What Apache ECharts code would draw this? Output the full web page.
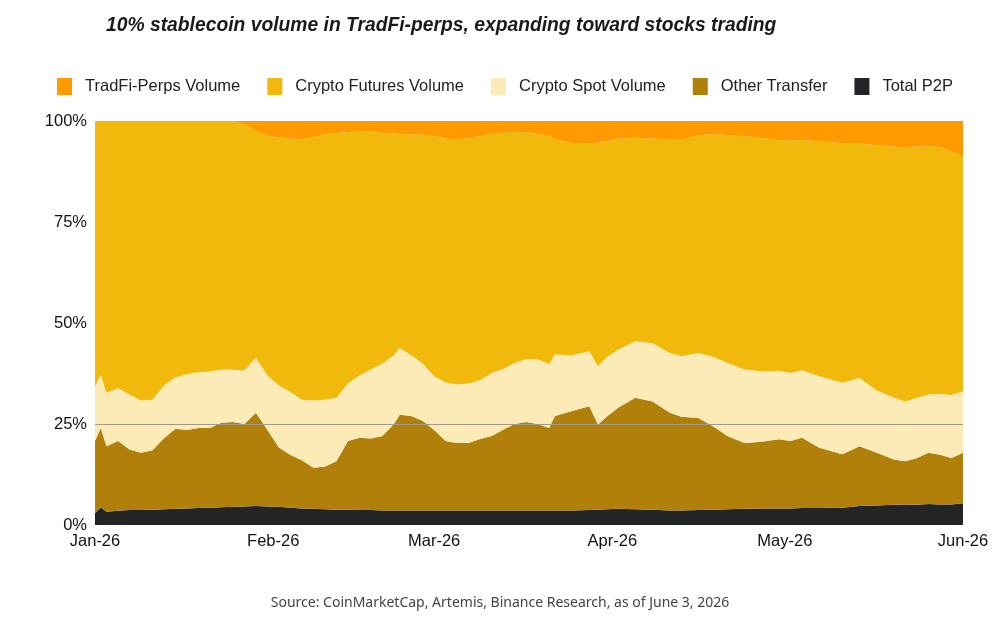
<!DOCTYPE html>
<html>
<head>
<meta charset="utf-8">
<title>Stablecoin volume share</title>
<script src="https://cdn.jsdelivr.net/npm/echarts@6/dist/echarts.min.js"></script>
<style>
  html, body { margin: 0; padding: 0; background: #fff; }
  #chart { width: 1000px; height: 629px; }
</style>
</head>
<body>
<div id="chart"></div>
<script>
// day offsets from 2026-01-01
var days = [0, 1, 2, 4, 6, 8, 10, 12, 14, 16, 18, 20, 22, 24, 26, 28, 30, 32, 34, 36, 38, 40, 42, 44, 46, 48, 50,
    52, 53, 55, 57, 59, 61, 63, 65, 67, 69, 71, 73, 75, 77, 79, 80, 83, 86, 87.5, 89, 91, 94, 97, 100,
    102, 105, 108, 110, 113, 116, 119, 121, 123, 126, 130, 133, 136, 139, 141, 143, 145, 147, 149, 151];

// shares in %, bottom layer first
var p2p = [2.9, 4.4, 3.3, 3.5, 3.7, 3.7, 3.8, 3.9, 4.0, 4.1, 4.2, 4.3, 4.4, 4.5, 4.6, 4.7, 4.6, 4.5, 4.3, 4.1, 4.0, 3.9, 3.8, 3.8, 3.7, 3.7, 3.6,
    3.6, 3.6, 3.6, 3.6, 3.6, 3.6, 3.6, 3.6, 3.6, 3.6, 3.6, 3.6, 3.6, 3.6, 3.6, 3.6, 3.6, 3.7, 3.8, 3.9, 4.0, 3.9, 3.8, 3.6,
    3.6, 3.7, 3.8, 3.9, 4.0, 4.1, 4.1, 4.1, 4.2, 4.2, 4.3, 4.7, 4.8, 5.0, 5.1, 5.0, 5.2, 5.1, 5.1, 5.4];
var otherTransfer = [17.9, 19.6, 16.2, 17.3, 15.0, 14.2, 14.7, 17.6, 19.8, 19.4, 19.8, 19.7, 20.9, 21.0, 20.4, 23.1, 18.9, 14.7, 13.0, 11.9, 10.2, 10.6, 12.0, 17.0, 17.9, 17.7, 18.4,
    21.4, 23.7, 23.4, 22.2, 19.9, 17.2, 16.7, 16.7, 17.7, 18.4, 20.0, 21.4, 21.9, 21.4, 20.4, 23.4, 24.6, 25.7, 21.1, 22.9, 25.0, 27.6, 26.8, 24.2,
    23.2, 22.8, 20.2, 18.1, 16.3, 16.5, 17.1, 16.7, 17.4, 14.9, 13.2, 14.8, 13.1, 11.2, 10.7, 11.6, 12.7, 12.3, 11.5, 12.5];
var cryptoSpot = [13.5, 13.2, 13.2, 13.1, 13.6, 12.9, 12.5, 13.0, 12.8, 13.8, 13.8, 14.0, 13.2, 12.9, 13.3, 13.6, 13.5, 15.3, 15.6, 15.0, 16.6, 16.5, 15.7, 14.2, 15.4, 17.1, 18.0,
    17.0, 16.5, 15.0, 14.2, 13.3, 14.5, 14.5, 14.7, 14.5, 15.6, 15.0, 15.1, 15.5, 16.0, 15.8, 15.2, 13.8, 13.6, 14.4, 14.7, 14.4, 14.0, 14.4, 14.8,
    15.0, 16.1, 17.4, 18.1, 18.2, 17.4, 17.0, 16.8, 16.7, 17.7, 17.7, 16.9, 15.4, 15.3, 14.8, 14.9, 14.4, 15.0, 15.6, 15.2];
var cryptoFutures = [65.7, 62.8, 67.3, 66.1, 67.7, 69.2, 69.0, 65.5, 63.4, 62.7, 62.2, 62.0, 61.5, 61.6, 60.9, 56.1, 59.3, 61.5, 62.7, 64.5, 65.2, 65.7, 65.5, 62.3, 60.4, 59.0, 57.0,
    54.9, 53.0, 54.7, 56.6, 59.4, 60.3, 60.7, 60.6, 60.4, 59.2, 58.4, 57.2, 56.2, 55.8, 56.4, 53.3, 52.5, 51.5, 55.3, 53.5, 52.2, 50.4, 50.6, 52.9,
    53.5, 53.9, 55.4, 56.4, 57.7, 57.8, 57.1, 57.6, 57.0, 58.2, 59.3, 58.0, 60.7, 62.1, 62.9, 62.2, 61.5, 61.1, 60.1, 58.1];
var tradfiPerps = [0, 0, 0, 0, 0, 0, 0, 0, 0, 0, 0, 0, 0, 0, 0.8, 2.5, 3.7, 4.0, 4.4, 4.5, 4.0, 3.3, 3.0, 2.7, 2.6, 2.5, 3.0,
    3.1, 3.2, 3.3, 3.4, 3.8, 4.4, 4.5, 4.4, 3.8, 3.2, 3.0, 2.7, 2.8, 3.2, 3.8, 4.5, 5.5, 5.5, 5.4, 5.0, 4.4, 4.1, 4.4, 4.5,
    4.7, 3.5, 3.2, 3.5, 3.8, 4.2, 4.7, 4.8, 4.7, 5.0, 5.5, 5.6, 6.0, 6.4, 6.5, 6.3, 6.2, 6.5, 7.7, 8.8];

// x tick labels, one per month start
var monthLabels = ['Jan-26', 'Feb-26', 'Mar-26', 'Apr-26', 'May-26', 'Jun-26'];

var DAY = 86400000;
var start = new Date(2026, 0, 1).getTime();
var end = new Date(2026, 5, 1).getTime();

var chart = echarts.init(document.getElementById('chart'));

function pairs(vals) {
    return days.map(function (d, i) { return [start + d * DAY, vals[i]]; });
}

function layer(name, vals, color) {
    return {
        name: name,
        type: 'line',
        stack: 'total',
        symbol: 'none',
        data: pairs(vals),
        lineStyle: { width: 0 },
        areaStyle: { color: color, opacity: 1 },
        itemStyle: { color: color }
    };
}

var series = [
    layer('Total P2P', p2p, '#222426'),
    layer('Other Transfer', otherTransfer, '#B0800A'),
    layer('Crypto Spot Volume', cryptoSpot, '#FCEAB7'),
    layer('Crypto Futures Volume', cryptoFutures, '#F0B90B'),
    layer('TradFi-Perps Volume', tradfiPerps, '#FF9A00')
];
// thin guide line at 25%, drawn over the areas
series[4].markLine = {
    silent: true,
    symbol: 'none',
    label: { show: false },
    lineStyle: { color: '#a09a86', width: 1, type: 'solid' },
    data: [{ yAxis: 25 }]
};

var option = {
    backgroundColor: '#fff',
    animation: false,
    title: {
        text: '10% stablecoin volume in TradFi-perps, expanding toward stocks trading',
        left: 101,
        top: 11,
        textStyle: {
            fontFamily: '"Liberation Sans", Arial, sans-serif',
            fontSize: 19.3,
            fontWeight: 'bold',
            fontStyle: 'italic',
            color: '#1a1a1a'
        }
    },
    legend: {
        data: ['TradFi-Perps Volume', 'Crypto Futures Volume', 'Crypto Spot Volume', 'Other Transfer', 'Total P2P'],
        left: 52,
        top: 73,
        icon: 'rect',
        itemWidth: 15,
        itemHeight: 17,
        itemGap: 27,
        textStyle: {
            fontFamily: '"Liberation Sans", Arial, sans-serif',
            fontSize: 16.5,
            color: '#222',
            padding: [0, 0, 0, 8]
        }
    },
    grid: { left: 95, right: 37, top: 121, bottom: 104 },
    xAxis: {
        type: 'time',
        min: start,
        max: end,
        splitNumber: 5,
        splitLine: { show: false },
        axisLine: { show: false },
        axisTick: { show: false },
        axisLabel: {
            margin: 8,
            showMinLabel: true,
            showMaxLabel: true,
            hideOverlap: false,
            fontFamily: '"Liberation Sans", Arial, sans-serif',
            fontSize: 16.5,
            color: '#111',
            formatter: function (v) {
                var d = new Date(v);
                if (d.getDate() !== 1 || d.getFullYear() !== 2026) return '';
                return monthLabels[d.getMonth()] || '';
            }
        }
    },
    yAxis: {
        type: 'value',
        min: 0,
        max: 100,
        interval: 25,
        splitLine: { show: false },
        axisLine: { show: false },
        axisTick: { show: false },
        axisLabel: {
            margin: 8,
            fontFamily: '"Liberation Sans", Arial, sans-serif',
            fontSize: 16.5,
            color: '#111',
            formatter: '{value}%'
        }
    },
    graphic: [{
        type: 'text',
        left: 'center',
        top: 596,
        style: {
            text: 'Source: CoinMarketCap, Artemis, Binance Research, as of June 3, 2026',
            font: '14px "Noto Sans", "Open Sans", sans-serif',
            fill: '#444'
        }
    }],
    series: series
};

chart.setOption(option);
</script>
</body>
</html>
